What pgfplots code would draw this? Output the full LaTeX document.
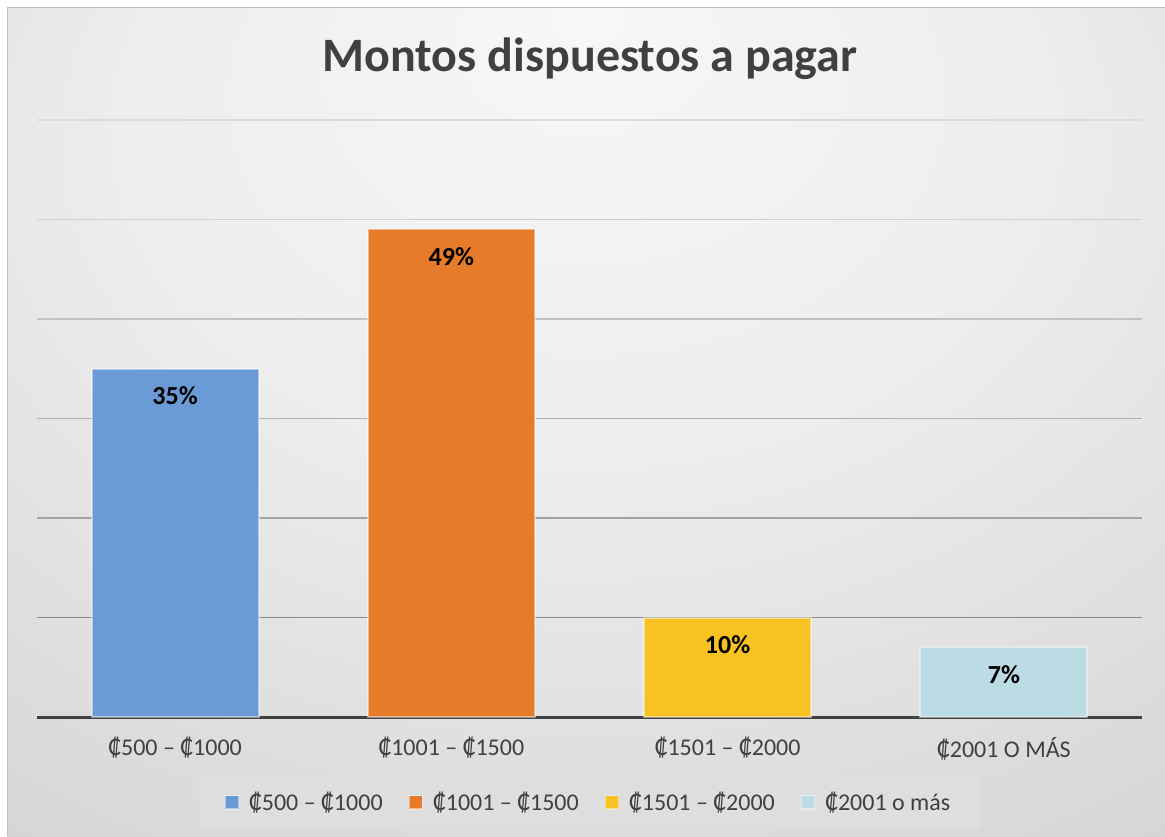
\documentclass[border=0pt]{standalone}
\usepackage{pgfplots}
\pgfplotsset{compat=1.18}
\usepackage{fontspec}
\setmainfont{Carlito}
\definecolor{cblue}{HTML}{6A9BD7}
\definecolor{corange}{HTML}{E67C2A}
\definecolor{cyellow}{HTML}{F8C223}
\definecolor{clblue}{HTML}{BCDCE5}
\definecolor{txt}{HTML}{404040}
\pgfdeclareradialshading{bg}{\pgfpoint{0bp}{25bp}}{color(0bp)=(black!3); color(20bp)=(black!7); color(45bp)=(black!17); color(70bp)=(black!27)}
\begin{document}
\begin{tikzpicture}[x=1pt,y=1pt]
\fill[white] (0,0) rectangle (582.5,418);
\shade[shading=bg] (3.5,0) rectangle (582.5,414);
\draw[black!25, line width=0.5pt] (3.5,0) -- (3.5,414) -- (582.5,414);
\node[font=\fontsize{24}{28}\selectfont\bfseries, text=txt] at (295,388.5) {Montos dispuestos a pagar};
\begin{axis}[
  at={(18.5pt,59.5pt)}, anchor=south west,
  scale only axis, width=552.5pt, height=298.5pt,
  xmin=-0.5, xmax=3.5, ymin=0, ymax=60,
  axis y line=none, axis x line*=bottom,
  x axis line style={line width=1.5pt, color=txt, -},
  xtick={0,1,2,3},
  xticklabels={₡500 – ₡1000, ₡1001 – ₡1500, ₡1501 – ₡2000, ₡2001 O MÁS},
  xticklabel style={font=\fontsize{12}{14}\selectfont, text=txt, yshift=-6.5pt},
  major tick length=0pt,
  ybar, bar width=83.5pt, bar shift=0pt,
  every axis plot/.append style={draw=white, draw opacity=0.45, line width=1pt},
  /pgf/number format/assume math mode=true,
  nodes near coords={\pgfmathprintnumber{\pgfplotspointmeta}\%},
  every node near coord/.append style={font=\fontsize{13}{15}\selectfont\bfseries, text=black, anchor=center, yshift=-13.5pt},
  legend columns=4,
  legend style={at={(0.5,-0.143)}, anchor=center, draw=none, fill=black!13,
    font=\fontsize{12}{14}\selectfont, text=txt, inner xsep=13pt, inner ysep=5.5pt,
    /tikz/every even column/.append style={column sep=11pt}},
  legend image code/.code={\draw[#1, line width=0.6pt] (0pt,-3.3pt) rectangle (6.6pt,3.3pt); \path (9.4pt,0pt);},
  clip=false,
]
\draw[black!14, line width=0.75pt] (axis cs:-0.5,60) -- (axis cs:3.5,60);
\draw[black!19, line width=0.75pt] (axis cs:-0.5,50) -- (axis cs:3.5,50);
\draw[black!24, line width=0.75pt] (axis cs:-0.5,40) -- (axis cs:3.5,40);
\draw[black!30, line width=0.75pt] (axis cs:-0.5,30) -- (axis cs:3.5,30);
\draw[black!36, line width=0.75pt] (axis cs:-0.5,20) -- (axis cs:3.5,20);
\draw[black!46, line width=0.75pt] (axis cs:-0.5,10) -- (axis cs:3.5,10);
\addplot[fill=cblue] coordinates {(0,35)};
\addplot[fill=corange] coordinates {(1,49)};
\addplot[fill=cyellow] coordinates {(2,10)};
\addplot[fill=clblue] coordinates {(3,7)};
\legend{₡500 – ₡1000, ₡1001 – ₡1500, ₡1501 – ₡2000, ₡2001 o más}
\end{axis}
\pgfresetboundingbox
\useasboundingbox (0,0) rectangle (582.5,418);
\end{tikzpicture}
\end{document}
